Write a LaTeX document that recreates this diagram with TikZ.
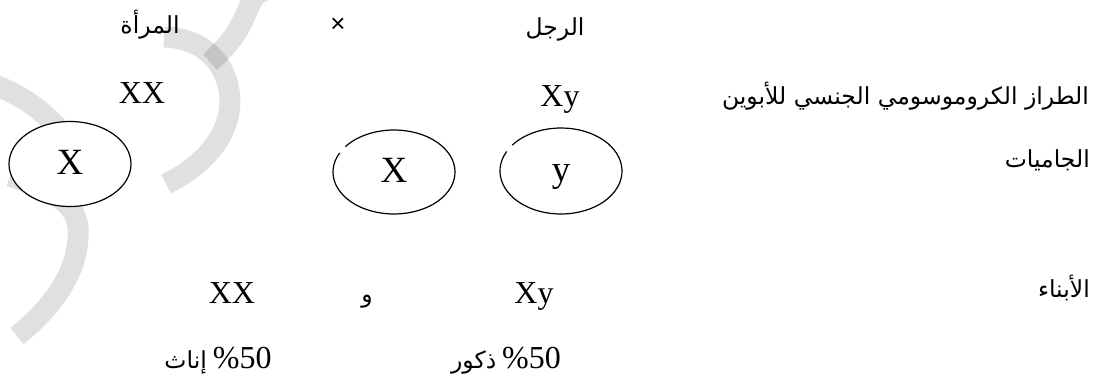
\documentclass[tikz,border=0pt]{standalone}
\usepackage{fontspec}
\setmainfont{Liberation Serif}
\newfontfamily\arabicfont[Script=Arabic]{DejaVu Sans}
\newfontfamily\symfont{Liberation Sans}
\usetikzlibrary{shapes.geometric}
\TeXXeTstate=1
\begin{document}
\begin{tikzpicture}[x=1pt,y=1pt,
  ar/.style={font=\arabicfont\fontsize{23.5}{28}\selectfont, inner sep=0pt},
  lat/.style={font=\fontsize{32}{38}\selectfont, inner sep=0pt},
  gamete/.style={ellipse, minimum width=122pt, minimum height=85pt, inner sep=0pt,
    font=\fontsize{37}{44}\selectfont, text height=25pt, text depth=4pt},
  rim/.style={line width=1.2pt, draw=black},
  wm/.style={line width=21pt, draw=black, draw opacity=0.12, line cap=butt}]
\useasboundingbox (0,0) rectangle (1104,-378);
% watermark bands
\begin{scope}
\clip (0,0) rectangle (1104,-378);
\draw[wm] (164,-37) .. controls (200,-38) and (228,-60) .. (230,-100) .. controls (230,-135) and (205,-165) .. (166,-184);
\draw[wm] (210,-62) .. controls (238,-38) and (244,-18) .. (252,0) .. controls (256,6) and (262,10) .. (275,12);
\draw[wm] (-5,-85) .. controls (20,-95) and (40,-108) .. (60,-130);
\draw[wm] (10,-176) .. controls (45,-188) and (76,-200) .. (78,-228) .. controls (80,-262) and (62,-300) .. (17,-336);
\end{scope}
% gametes
\node[gamete, rim, fill=white] (g1) at (70,-164) {X};
\node[gamete] (g2) at (394,-172) {X};
\node[gamete] (g3) at (561,-171) {y};
\draw[rim] ([shift={(153:61pt and 42pt)}]g2.center) arc[start angle=153, end angle=503, x radius=61pt, y radius=42pt];
\draw[rim] ([shift={(153:61pt and 43pt)}]g3.center) arc[start angle=153, end angle=503, x radius=61pt, y radius=43pt];
% header
\node[ar, anchor=base] (woman) at (150,-33) {\beginR المرأة\endR};
\node[font=\symfont\fontsize{26}{30}\selectfont, inner sep=0pt] (cross) at (338,-25) {×};
\node[ar, anchor=base] (man) at (555,-35) {\beginR الرجل\endR};
% parents
\node[ar, anchor=base east] (lblgen) at (1089,-104) {\beginR الطراز الكروموسومي الجنسي للأبوين\endR};
\node[lat, anchor=base] (pf) at (142,-103) {XX};
\node[lat, anchor=base] (pm) at (560,-106) {Xy};
\node[ar, anchor=base east] (lblgam) at (1090,-167) {\beginR الجاميات\endR};
% offspring
\node[ar, anchor=base east] (lblkids) at (1090,-297) {\beginR الأبناء\endR};
\node[lat, anchor=base] (kf) at (232,-303) {XX};
\node[ar, anchor=base] (and) at (367,-302) {\beginR و\endR};
\node[lat, anchor=base] (km) at (534,-303) {Xy};
\node[anchor=base, inner sep=0pt] (pcf) at (218,-368) {{\arabicfont\fontsize{23.5}{28}\selectfont\beginR إناث\endR}\hspace{6pt}{\fontsize{32}{38}\selectfont\%50}};
\node[anchor=base, inner sep=0pt] (pcm) at (506,-368) {{\arabicfont\fontsize{23.5}{28}\selectfont\beginR ذكور\endR}\hspace{6pt}{\fontsize{32}{38}\selectfont\%50}};
\end{tikzpicture}
\end{document}
